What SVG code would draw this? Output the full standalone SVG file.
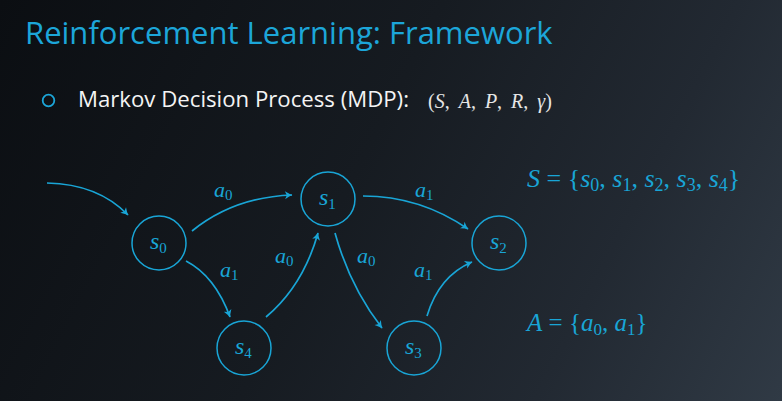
<svg xmlns="http://www.w3.org/2000/svg" width="782" height="401" viewBox="0 0 782 401">
  <defs>
    <linearGradient id="bg" gradientUnits="userSpaceOnUse" x1="0" y1="0" x2="782" y2="401">
      <stop offset="0" stop-color="#0b0e12"/>
      <stop offset="0.45" stop-color="#161b21"/>
      <stop offset="0.75" stop-color="#222932"/>
      <stop offset="1" stop-color="#303a45"/>
    </linearGradient>
    <marker id="arrow" viewBox="-8 -5 10 10" markerWidth="10" markerHeight="10" refX="0" refY="0" orient="auto" markerUnits="userSpaceOnUse">
      <path d="M-7,-4 Q-2.5,-1 0.5,0 Q-2.5,1 -7,4 L-5.2,0 Z" fill="#19a5d6"/>
    </marker>
  </defs>
  <style>
    .title { font-family: "Open Sans", "Noto Sans", sans-serif; font-size: 31px; fill: #1ca6d9; }
    .body { font-family: "Open Sans", "Noto Sans", sans-serif; font-size: 22.2px; fill: #f4f4f4; }
    .math { font-family: "Liberation Serif", "DejaVu Serif", serif; fill: #19a5d6; }
    .tuple { fill: #e6e6e6; }
    .it { font-style: italic; }
    .node circle { fill: none; stroke: #19a5d6; stroke-width: 1.5; }
    .node text { font-size: 24px; }
    .sub { font-size: 15px; font-style: normal; }
    .edge { fill: none; stroke: #19a5d6; stroke-width: 1.7; marker-end: url(#arrow); }
    .lbl { font-size: 22px; }
  </style>

  <rect width="782" height="401" fill="url(#bg)"/>

  <!-- heading and bullet -->
  <text class="title" x="25" y="44">Reinforcement Learning: Framework</text>
  <circle cx="48.5" cy="100.5" r="5.8" fill="none" stroke="#1ca6d9" stroke-width="1.8"/>
  <text class="body" x="78" y="107">Markov Decision Process (MDP):</text>
  <text class="math tuple" x="428" y="108" font-size="20" word-spacing="4">(<tspan class="it">S</tspan>, <tspan class="it">A</tspan>, <tspan class="it">P</tspan>, <tspan class="it">R</tspan>, <tspan class="it">γ</tspan>)</text>

  <!-- set definitions -->
  <text class="math" x="527" y="187" font-size="26"><tspan class="it">S</tspan> = {<tspan class="it">s</tspan><tspan font-size="18" dy="4">0</tspan><tspan dy="-4">, </tspan><tspan class="it">s</tspan><tspan font-size="18" dy="4">1</tspan><tspan dy="-4">, </tspan><tspan class="it">s</tspan><tspan font-size="18" dy="4">2</tspan><tspan dy="-4">, </tspan><tspan class="it">s</tspan><tspan font-size="18" dy="4">3</tspan><tspan dy="-4">, </tspan><tspan class="it">s</tspan><tspan font-size="18" dy="4">4</tspan><tspan dy="-4">}</tspan></text>
  <text class="math" x="527" y="331" font-size="25"><tspan class="it">A</tspan> = {<tspan class="it">a</tspan><tspan font-size="17" dy="4">0</tspan><tspan dy="-4">, </tspan><tspan class="it">a</tspan><tspan font-size="17" dy="4">1</tspan><tspan dy="-4">}</tspan></text>

  <!-- transitions -->
  <g id="connectors">
    <path class="edge" d="M47,183 Q98,184 128,215"/>
    <path class="edge" d="M192,231 Q234,197 292,195"/>
    <path class="edge" d="M186,261 Q215,276 230,317"/>
    <path class="edge" d="M266,317 Q303,286 318,233"/>
    <path class="edge" d="M335,233 Q350,287 382,328"/>
    <path class="edge" d="M363,196 Q420,196 468,229"/>
    <path class="edge" d="M427,316 Q439,276 472,262"/>
    <text class="math lbl" x="214" y="197"><tspan class="it">a</tspan><tspan class="sub" dy="3">0</tspan></text>
    <text class="math lbl" x="220" y="277"><tspan class="it">a</tspan><tspan class="sub" dy="3">1</tspan></text>
    <text class="math lbl" x="275" y="263"><tspan class="it">a</tspan><tspan class="sub" dy="3">0</tspan></text>
    <text class="math lbl" x="357" y="263"><tspan class="it">a</tspan><tspan class="sub" dy="3">0</tspan></text>
    <text class="math lbl" x="415" y="197"><tspan class="it">a</tspan><tspan class="sub" dy="3">1</tspan></text>
    <text class="math lbl" x="414" y="277"><tspan class="it">a</tspan><tspan class="sub" dy="3">1</tspan></text>
  </g>

  <!-- states -->
  <g id="s0" class="node math">
    <circle cx="159" cy="243" r="27"/>
    <text x="150" y="249"><tspan class="it">s</tspan><tspan class="sub" dy="4">0</tspan></text>
  </g>
  <g id="s1" class="node math">
    <circle cx="328" cy="199" r="27"/>
    <text x="319" y="205"><tspan class="it">s</tspan><tspan class="sub" dy="4">1</tspan></text>
  </g>
  <g id="s2" class="node math">
    <circle cx="499" cy="243" r="27"/>
    <text x="490" y="249"><tspan class="it">s</tspan><tspan class="sub" dy="4">2</tspan></text>
  </g>
  <g id="s3" class="node math">
    <circle cx="414" cy="348" r="27"/>
    <text x="405" y="354"><tspan class="it">s</tspan><tspan class="sub" dy="4">3</tspan></text>
  </g>
  <g id="s4" class="node math">
    <circle cx="244" cy="348" r="27"/>
    <text x="235" y="354"><tspan class="it">s</tspan><tspan class="sub" dy="4">4</tspan></text>
  </g>
</svg>
